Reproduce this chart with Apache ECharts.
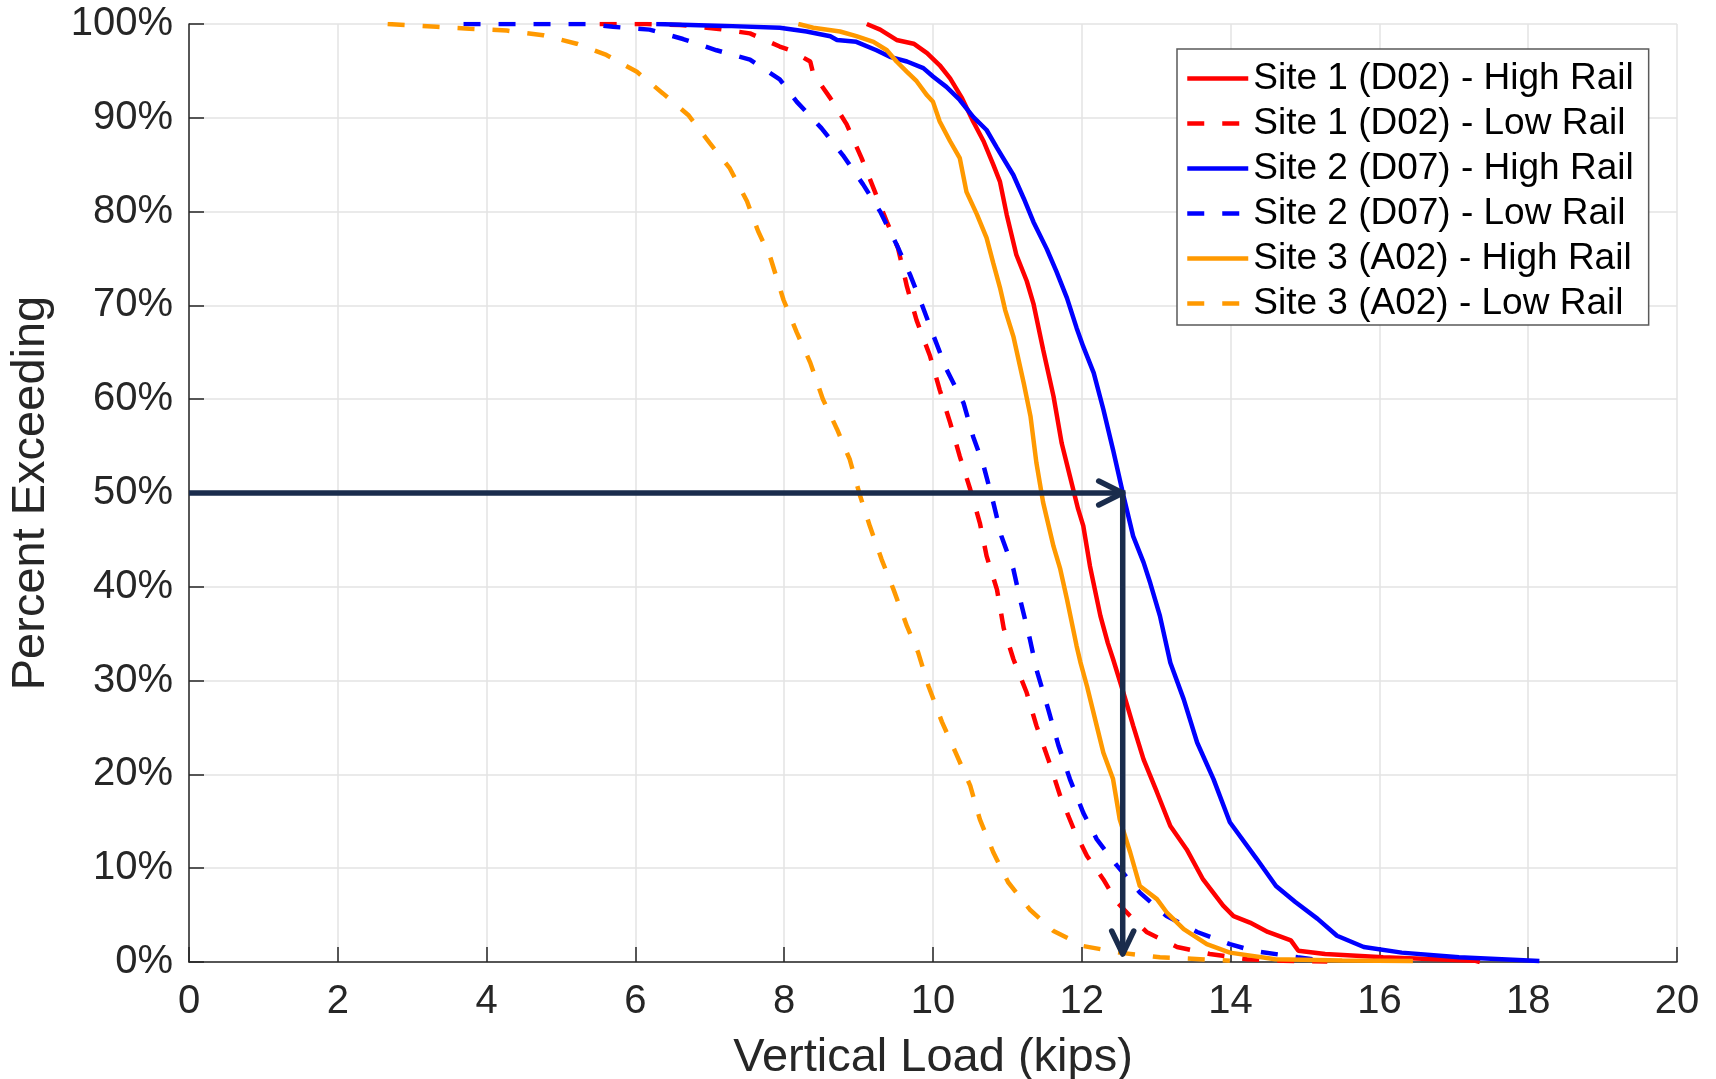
<!DOCTYPE html>
<html>
<head>
<meta charset="utf-8">
<title>Percent Exceeding vs Vertical Load</title>
<script src="https://cdn.jsdelivr.net/npm/echarts@6/dist/echarts.min.js"></script>
<style>
  html, body { margin: 0; padding: 0; background: #fff; }
  #chart { width: 1716px; height: 1079px; }
</style>
</head>
<body>
<div id="chart"></div>
<script>
// [load (kips), percent exceeding]
var site1High = [[9.11,100],[9.29,99.4],[9.51,98.3],[9.74,97.9],[9.92,96.9],[10.09,95.6],[10.23,94.2],[10.39,92.1],[10.54,89.6],[10.68,87.5],[10.81,85.0],[10.9,83.2],[10.99,79.7],[11.12,75.4],[11.26,72.6],[11.35,70.2],[11.48,65.3],[11.62,60.3],[11.73,55.3],[11.84,51.8],[11.95,48.3],[12.02,46.5],[12.11,42.2],[12.25,36.9],[12.35,34.0],[12.42,32.3],[12.56,28.7],[12.69,25.2],[12.83,21.6],[13.01,18.1],[13.19,14.5],[13.41,12.0],[13.63,8.8],[13.9,6.0],[14.04,4.9],[14.26,4.2],[14.5,3.2],[14.81,2.3],[14.91,1.2],[15.27,0.85],[16.05,0.5],[17.28,0.14],[17.35,0]];
var site1Low = [[5.52,100],[6.15,100],[6.6,99.9],[7.09,99.5],[7.54,99.0],[7.94,97.6],[8.08,97.2],[8.35,96.0],[8.39,94.7],[8.62,92.1],[8.84,89.3],[9.04,85.7],[9.22,82.1],[9.38,78.9],[9.53,76.1],[9.65,72.0],[9.78,68.4],[9.96,64.6],[10.09,61.0],[10.23,57.5],[10.36,53.9],[10.5,50.4],[10.63,46.8],[10.72,43.3],[10.86,39.7],[10.95,35.6],[11.08,32.3],[11.26,28.7],[11.39,25.2],[11.55,21.6],[11.71,17.7],[11.89,14.2],[12.07,11.3],[12.29,8.8],[12.47,6.4],[12.65,4.9],[12.87,3.2],[13.28,1.6],[13.72,0.85],[14.22,0.3],[14.7,0.12],[15.3,0.05]];
var site2High = [[6.28,100],[7.2,99.8],[7.94,99.6],[8.3,99.2],[8.62,98.7],[8.71,98.3],[8.97,98.1],[9.24,97.2],[9.42,96.5],[9.65,96.0],[9.87,95.3],[10.0,94.4],[10.18,93.3],[10.36,91.9],[10.54,90.1],[10.72,88.7],[10.86,86.8],[11.08,83.9],[11.22,81.4],[11.35,78.9],[11.53,76.0],[11.66,73.6],[11.8,70.8],[11.93,67.6],[12.02,65.6],[12.16,62.8],[12.29,58.9],[12.42,54.6],[12.56,49.7],[12.69,45.4],[12.83,42.6],[12.92,40.4],[13.05,36.9],[13.19,31.9],[13.37,28.0],[13.55,23.4],[13.77,19.5],[13.99,14.9],[14.35,11.0],[14.61,8.1],[14.87,6.4],[15.17,4.6],[15.43,2.8],[15.79,1.6],[16.3,1.0],[17.07,0.5],[18.15,0.1]];
var site2Low = [[3.69,100],[5.34,100],[5.7,99.7],[6.19,99.4],[6.64,98.4],[7.09,97.2],[7.54,96.2],[7.94,94.1],[8.17,91.7],[8.5,88.9],[8.79,86.0],[9.06,82.9],[9.29,80.0],[9.51,76.5],[9.69,73.3],[9.85,70.1],[10.0,66.9],[10.18,63.2],[10.41,59.6],[10.54,56.0],[10.68,52.9],[10.81,49.0],[10.92,45.4],[11.08,41.9],[11.17,38.7],[11.3,34.5],[11.39,31.2],[11.55,26.9],[11.69,23.0],[11.84,19.5],[12.02,15.9],[12.2,13.1],[12.47,10.3],[12.78,7.4],[13.14,4.9],[13.55,3.2],[13.99,1.9],[14.3,1.2],[14.9,0.5],[15.3,0.1]];
var site3High = [[8.19,100],[8.39,99.6],[8.75,99.2],[8.97,98.7],[9.2,98.1],[9.38,97.2],[9.51,96.0],[9.65,94.9],[9.78,93.9],[9.92,92.4],[10.0,91.7],[10.09,89.6],[10.23,87.5],[10.36,85.7],[10.45,82.1],[10.59,79.7],[10.72,77.2],[10.81,74.5],[10.9,71.9],[10.97,69.5],[11.08,66.7],[11.22,61.7],[11.31,58.2],[11.39,53.2],[11.48,49.0],[11.62,44.3],[11.71,41.9],[11.8,38.7],[11.93,33.7],[11.98,32.0],[12.07,29.4],[12.2,25.2],[12.29,22.3],[12.42,19.5],[12.51,15.2],[12.65,11.7],[12.78,8.1],[13.01,6.7],[13.14,5.3],[13.37,3.5],[13.68,1.9],[13.99,1.0],[14.6,0.3],[15.5,0.15],[16.45,0.1]];
var site3Low = [[2.67,100],[3.33,99.7],[3.77,99.5],[4.27,99.3],[4.76,98.8],[5.21,97.9],[5.61,96.7],[6.02,94.9],[6.37,92.6],[6.71,90.3],[7.0,87.3],[7.27,84.6],[7.5,81.1],[7.65,77.9],[7.81,75.2],[7.99,70.6],[8.17,67.1],[8.35,63.9],[8.52,60.0],[8.71,56.8],[8.88,53.6],[9.02,49.7],[9.15,46.5],[9.31,42.9],[9.47,39.7],[9.65,35.8],[9.8,33.0],[9.94,29.4],[10.12,25.6],[10.3,22.4],[10.5,18.8],[10.63,15.2],[10.81,11.7],[11.01,8.5],[11.3,5.6],[11.62,3.3],[12.02,1.7],[12.51,1.0],[13.05,0.5],[13.59,0.3],[13.99,0.14]];

var seriesNames = ['Site 1 (D02) - High Rail', 'Site 1 (D02) - Low Rail', 'Site 2 (D07) - High Rail', 'Site 2 (D07) - Low Rail', 'Site 3 (A02) - High Rail', 'Site 3 (A02) - Low Rail'];
var seriesData = [site1High, site1Low, site2High, site2Low, site3High, site3Low];
var seriesColors = ['#ff0000', '#ff0000', '#0000ff', '#0000ff', '#ff9900', '#ff9900'];

// annotation: 50% exceedance read across to Site 2 high rail, then down
var arrowPath = [[0, 50], [12.55, 50], [12.55, 0.85]];

var FONT = "'Liberation Sans', Arial, Helvetica, sans-serif";
var AXIS_COLOR = '#262626';
var ARROW_COLOR = '#1a2c4c';
var LINE_W = 4.5;

var chart = echarts.init(document.getElementById('chart'));

var series = seriesData.map(function (d, i) {
  return {
    name: seriesNames[i],
    type: 'line',
    data: d,
    symbol: 'none',
    smooth: false,
    lineStyle: {
      color: seriesColors[i],
      width: LINE_W,
      type: i % 2 === 1 ? [17, 18] : 'solid'
    },
    itemStyle: { color: seriesColors[i] }
  };
});

series.push({
  name: 'arrow',
  type: 'custom',
  data: arrowPath,
  encode: { x: 0, y: 1 },
  silent: true,
  z: 10,
  renderItem: function (params, api) {
    if (params.dataIndex !== 0) return null;
    var p = arrowPath.map(function (d) { return api.coord(d); });
    var h = p[1], v = p[2];
    var st = { stroke: ARROW_COLOR, fill: null, lineWidth: 5.5, lineCap: 'round', lineJoin: 'round' };
    return {
      type: 'group',
      children: [
        { type: 'polyline', shape: { points: p }, style: { stroke: ARROW_COLOR, fill: null, lineWidth: 5.5, lineJoin: 'miter' } },
        { type: 'polyline', shape: { points: [[h[0] - 24, h[1] - 12], [h[0], h[1]], [h[0] - 24, h[1] + 12]] }, style: st },
        { type: 'polyline', shape: { points: [[v[0] - 11, v[1] - 23], [v[0], v[1]], [v[0] + 11, v[1] - 23]] }, style: st }
      ]
    };
  }
});

var option = {
  animation: false,
  backgroundColor: '#fff',
  textStyle: { fontFamily: FONT },
  grid: { left: 189, right: 39, top: 24, bottom: 117, outerBoundsMode: 'none' },
  legend: {
    data: seriesNames,
    orient: 'vertical',
    left: 1177,
    top: 49,
    padding: [11, 15, 3, 8],
    itemWidth: 61,
    itemHeight: 14,
    itemGap: 8,
    selectedMode: false,
    backgroundColor: '#fff',
    borderColor: '#5a5a5a',
    borderWidth: 1.5,
    borderRadius: 0,
    itemStyle: { opacity: 0 },
    lineStyle: { width: LINE_W },
    textStyle: { fontSize: 37, color: '#000', fontFamily: FONT, lineHeight: 37 }
  },
  xAxis: {
    type: 'value',
    min: 0,
    max: 20,
    interval: 2,
    name: 'Vertical Load (kips)',
    nameLocation: 'middle',
    nameGap: 73,
    nameTextStyle: { fontSize: 47, color: AXIS_COLOR, fontFamily: FONT },
    axisLine: { show: true, onZero: false, lineStyle: { color: AXIS_COLOR, width: 1.5 } },
    axisTick: { show: true, inside: true, length: 15, lineStyle: { color: AXIS_COLOR, width: 1.5 } },
    axisLabel: { fontSize: 40, color: AXIS_COLOR, margin: 20, fontFamily: FONT },
    splitLine: { show: true, lineStyle: { color: '#e3e3e3', width: 1.5 } }
  },
  yAxis: {
    type: 'value',
    min: 0,
    max: 100,
    interval: 10,
    name: 'Percent Exceeding',
    nameLocation: 'middle',
    nameGap: 134,
    nameTextStyle: { fontSize: 47, color: AXIS_COLOR, fontFamily: FONT },
    axisLine: { show: true, lineStyle: { color: AXIS_COLOR, width: 1.5 } },
    axisTick: { show: true, inside: true, length: 15, lineStyle: { color: AXIS_COLOR, width: 1.5 } },
    axisLabel: { fontSize: 40, color: AXIS_COLOR, margin: 16, fontFamily: FONT, formatter: '{value}%' },
    splitLine: { show: true, lineStyle: { color: '#e3e3e3', width: 1.5 } }
  },
  series: series
};

chart.setOption(option);
</script>
</body>
</html>
